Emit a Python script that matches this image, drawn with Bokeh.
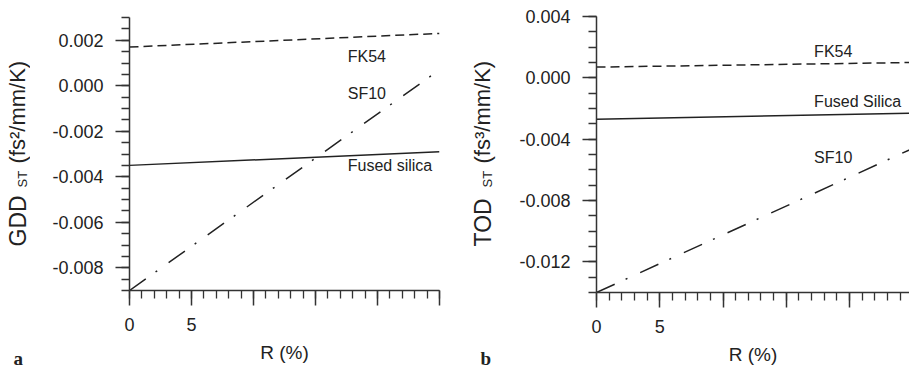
import numpy as np
from math import pi
from bokeh.plotting import figure
from bokeh.models import FixedTicker, PrintfTickFormatter, Range1d, CustomJSTickFormatter
from bokeh.layouts import row
from bokeh.core.properties import value
from bokeh.embed import file_html
from bokeh.resources import INLINE

# ---- data ----
R = [0, 25]
gdd_fk54 = [0.0017, 0.0023]
gdd_sf10 = [-0.0090, 0.0007]
gdd_fs = [-0.0035, -0.0029]
tod_fk54 = [0.0007, 0.0010]
tod_fs = [-0.0027, -0.0023]
tod_sf10 = [-0.0140, -0.0046]

gdd_label_text = ["FK54", "SF10", "Fused silica"]
gdd_label_x = [17.6, 17.6, 17.6]
gdd_label_y = [0.0013, -0.00034, -0.0035]
tod_label_text = ["FK54", "Fused Silica", "SF10"]
tod_label_x = [17.2, 17.2, 17.2]
tod_label_y = [0.00175, -0.00154, -0.0052]

x_major = [0, 5, 10, 15, 20, 25]
gdd_major = [-0.008, -0.006, -0.004, -0.002, 0.0, 0.002]
tod_major = [-0.012, -0.008, -0.004, 0.0, 0.004]

FONT = "Liberation Sans"
INK = "#222222"
AX = "#333333"
H = 370


def style(p, ymajor, yminor):
    p.grid.visible = False
    p.outline_line_color = None
    for ax in (p.xaxis[0], p.yaxis[0]):
        ax.axis_line_color = AX
        ax.axis_line_width = 1.5
        ax.major_tick_line_color = AX
        ax.major_tick_line_width = 1.5
        ax.minor_tick_line_color = AX
        ax.minor_tick_line_width = 1.3
        ax.major_tick_in = 0
        ax.minor_tick_in = 0
        ax.major_tick_out = 15
        ax.minor_tick_out = 8
        ax.major_label_text_font = FONT
        ax.major_label_text_font_size = "18px"
        ax.major_label_text_color = INK
    xa = p.xaxis[0]
    xa.ticker = FixedTicker(ticks=x_major, minor_ticks=list(range(0, 26)))
    xa.formatter = CustomJSTickFormatter(code="return (tick==0||tick==5) ? tick.toFixed(0) : '';")
    xa.major_label_standoff = 12
    xa.axis_label = "R (%)"
    xa.axis_label_text_font = FONT
    xa.axis_label_text_font_size = "19px"
    xa.axis_label_text_font_style = "normal"
    xa.axis_label_text_color = INK
    xa.axis_label_standoff = 8
    ya = p.yaxis[0]
    ya.ticker = FixedTicker(ticks=ymajor, minor_ticks=yminor)
    ya.formatter = PrintfTickFormatter(format="%.3f")
    ya.major_label_standoff = 12
    ya.major_tick_out = 14
    ya.minor_tick_out = 8


def label_column(width, main, unit, xc, letter, letter_x, letter_base):
    q = figure(width=width, height=H, x_range=Range1d(0, width), y_range=Range1d(0, H),
               output_backend="svg", toolbar_location=None,
               x_axis_location=None, y_axis_location=None,
               min_border_left=0, min_border_right=0, min_border_top=0, min_border_bottom=0)
    q.frame_align = False
    q.grid.visible = False
    q.outline_line_color = None
    common = dict(angle=pi / 2, text_font=value(FONT), text_color=INK,
                  text_align="left", text_baseline="middle")
    # main symbol, subscript, units (read bottom to top)
    q.text([xc], [H - 246], text=[main], text_font_size="23px", **common)
    q.text([xc + 5], [H - 187], text=["ST"], text_font_size="13px", **common)
    q.text([xc], [H - 163], text=[unit], text_font_size="22px", **common)
    q.text([letter_x], [H - letter_base], text=[letter], text_font=value("Liberation Serif"),
           text_font_style="bold", text_font_size="19px", text_color=INK,
           text_align="left", text_baseline="middle")
    return q


# ---- panel a ----
la = label_column(30, "GDD", "(fs²/mm/K)", 17, "a", 13, 358)
pa = figure(width=430, height=H, x_range=Range1d(0, 25), y_range=Range1d(-0.009, 0.003),
            output_backend="svg", toolbar_location=None,
            min_border_left=99, min_border_right=21, min_border_top=17, min_border_bottom=80)
pa.frame_align = False
style(pa, gdd_major, [round(v, 4) for v in np.arange(-0.009, 0.00301, 0.0005)])
pa.line(R, gdd_fk54, line_color=INK, line_width=1.5, line_dash="9 5")
pa.line(R, gdd_sf10, line_color=INK, line_width=1.5, line_dash="20 12 2 14")
pa.line(R, gdd_fs, line_color=INK, line_width=1.5)
pa.text(gdd_label_x, gdd_label_y, text=gdd_label_text, text_font=value(FONT),
        text_font_size="16px", text_color=INK, text_baseline="middle", text_align="left")

# ---- panel b ----
lb = label_column(36, "TOD", "(fs³/mm/K)", 22, "b", 20, 358)
pb = figure(width=413, height=H, x_range=Range1d(0, 24.74), y_range=Range1d(-0.014, 0.004),
            output_backend="svg", toolbar_location=None,
            min_border_left=100, min_border_right=0, min_border_top=16, min_border_bottom=78)
pb.frame_align = False
style(pb, tod_major, [round(v, 4) for v in np.arange(-0.014, 0.00401, 0.001)])
pb.line(R, tod_fk54, line_color=INK, line_width=1.5, line_dash="9 5")
pb.line(R, tod_fs, line_color=INK, line_width=1.5)
pb.line(R, tod_sf10, line_color=INK, line_width=1.5, line_dash="20 12 2 14")
pb.text(tod_label_x, tod_label_y, text=tod_label_text, text_font=value(FONT),
        text_font_size="16px", text_color=INK, text_baseline="middle", text_align="left")

layout = row(la, pa, lb, pb)
open("out.html", "w").write(file_html(layout, INLINE))
